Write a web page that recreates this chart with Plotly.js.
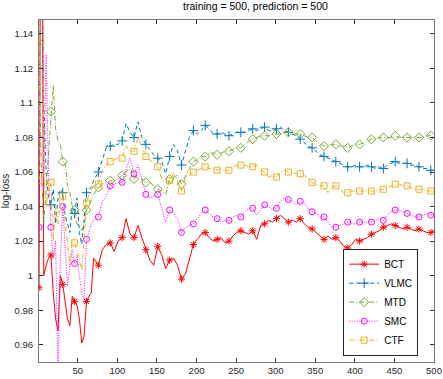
<!DOCTYPE html>
<html>
<head>
<meta charset="utf-8">
<script src="https://cdn.plot.ly/plotly-3.0.1.min.js"></script>
<style>
  html, body { margin: 0; padding: 0; background: #fff; }
  #chart { width: 443px; height: 379px; }
</style>
</head>
<body>
<div id="chart"></div>
<script>
// step index (x) shared by all curves
var steps = [1, 4, 7, 10, 13, 16, 19, 22, 25, 28, 31, 34, 37, 40, 43, 46, 49, 52, 55, 58, 61, 64, 67, 70,
    76, 81, 86, 91, 96, 101, 106, 111, 116, 121,
    126, 131, 136, 141, 146, 151, 156, 161, 166, 171,
    176, 181, 186, 191, 196, 201, 206, 211, 216, 221,
    226, 231, 236, 241, 246, 251, 256, 261, 266, 271,
    276, 281, 286, 291, 296, 301, 306, 311, 316, 321,
    326, 331, 336, 341, 346, 351, 356, 361, 366, 371,
    376, 381, 386, 391, 396, 401, 406, 411, 416, 421,
    426, 431, 436, 441, 446, 451, 456, 461, 466, 471,
    476, 481, 486, 491, 496, 500];

var bct = [0.993, 1.30, 1.000, 1.006, 1.010, 1.012, 0.990, 0.975, 0.968, 1.000, 0.995, 0.984,
    0.975, 0.971, 0.988, 0.985, 0.983, 0.975, 0.961, 0.965, 0.985, 0.988, 0.990, 1.010,
    1.006, 1.015, 1.018, 1.019, 1.014, 1.020, 1.022, 1.033, 1.024, 1.022,
    1.029, 1.022, 1.015, 1.009, 1.006, 1.017, 1.012, 1.004, 1.009, 1.010,
    1.006, 0.998, 1.001, 1.009, 1.018, 1.021, 1.024, 1.025, 1.022, 1.020,
    1.021, 1.022, 1.019, 1.020, 1.023, 1.025, 1.026, 1.025, 1.024, 1.026,
    1.021, 1.029, 1.030, 1.032, 1.031, 1.033, 1.035, 1.033, 1.031, 1.032,
    1.031, 1.033, 1.030, 1.028, 1.027, 1.025, 1.023, 1.021, 1.023, 1.021,
    1.022, 1.020, 1.017, 1.016, 1.018, 1.021, 1.020, 1.021, 1.022, 1.024,
    1.025, 1.026, 1.028, 1.029, 1.030, 1.029, 1.028, 1.027, 1.028, 1.027,
    1.026, 1.027, 1.026, 1.025, 1.025, 1.026];

var vlmc = [1.25, 1.20, 1.10, 1.06, 1.045, 1.041, 1.05, 1.03, 1.045, 1.05, 1.048, 1.035,
    1.03, 1.025, 1.04, 1.036, 1.045, 1.025, 1.018, 1.035, 1.048, 1.050, 1.051, 1.055,
    1.060, 1.067, 1.074, 1.075, 1.076, 1.076, 1.078, 1.088, 1.083, 1.080,
    1.089, 1.080, 1.076, 1.073, 1.070, 1.068, 1.066, 1.059, 1.069, 1.076,
    1.072, 1.064, 1.072, 1.080, 1.084, 1.082, 1.084, 1.087, 1.085, 1.082,
    1.082, 1.083, 1.082, 1.081, 1.082, 1.083, 1.083, 1.083, 1.084, 1.085,
    1.084, 1.085, 1.086, 1.084, 1.084, 1.085, 1.086, 1.084, 1.083, 1.082,
    1.081, 1.079, 1.077, 1.075, 1.074, 1.072, 1.070, 1.069, 1.068, 1.067,
    1.066, 1.065, 1.064, 1.063, 1.063, 1.064, 1.063, 1.063, 1.064, 1.063,
    1.062, 1.063, 1.062, 1.064, 1.065, 1.066, 1.065, 1.065, 1.065, 1.064,
    1.064, 1.063, 1.062, 1.062, 1.061, 1.061];

var mtd = [1.135, 1.06, 1.03, 1.05, 1.07, 1.095, 1.11, 1.085, 1.078, 1.076, 1.066, 1.066,
    1.052, 1.048, 1.040, 1.038, 1.030, 1.028, 1.026, 1.030, 1.038, 1.040, 1.044, 1.047,
    1.051, 1.053, 1.054, 1.055, 1.055, 1.056, 1.058, 1.060, 1.063, 1.056,
    1.058, 1.056, 1.054, 1.054, 1.052, 1.050, 1.049, 1.047, 1.056, 1.057,
    1.058, 1.053, 1.058, 1.062, 1.066, 1.067, 1.069, 1.069, 1.071, 1.071,
    1.070, 1.071, 1.072, 1.072, 1.073, 1.074, 1.074, 1.076, 1.078, 1.079,
    1.080, 1.081, 1.081, 1.081, 1.082, 1.082, 1.082, 1.083, 1.083, 1.083,
    1.082, 1.082, 1.081, 1.080, 1.080, 1.078, 1.076, 1.075, 1.075, 1.076,
    1.076, 1.075, 1.075, 1.074, 1.075, 1.076, 1.076, 1.077, 1.078, 1.079,
    1.079, 1.080, 1.080, 1.080, 1.080, 1.081, 1.080, 1.080, 1.080, 1.080,
    1.080, 1.080, 1.080, 1.081, 1.081, 1.080];

var smc = [1.028, 1.40, 1.05, 1.128, 1.06, 1.028, 1.010, 1.020, 0.940, 1.010, 1.040, 1.020,
    0.994, 1.005, 1.015, 1.007, 1.012, 1.000, 0.990, 0.986, 1.021, 1.025, 1.030, 1.032,
    1.034, 1.043, 1.046, 1.052, 1.053, 1.054, 1.054, 1.062, 1.068, 1.059,
    1.064, 1.056, 1.047, 1.045, 1.046, 1.047, 1.039, 1.031, 1.038, 1.036,
    1.033, 1.025, 1.028, 1.029, 1.030, 1.033, 1.036, 1.038, 1.036, 1.034,
    1.033, 1.031, 1.032, 1.032, 1.034, 1.035, 1.034, 1.037, 1.039, 1.039,
    1.035, 1.038, 1.041, 1.040, 1.038, 1.039, 1.043, 1.045, 1.044, 1.043,
    1.041, 1.043, 1.042, 1.039, 1.037, 1.036, 1.034, 1.034, 1.031, 1.028,
    1.028, 1.029, 1.030, 1.031, 1.030, 1.030, 1.031, 1.031, 1.031, 1.031,
    1.032, 1.033, 1.032, 1.035, 1.037, 1.038, 1.038, 1.037, 1.036, 1.035,
    1.034, 1.034, 1.035, 1.036, 1.035, 1.036];

var ctf = [1.055, 1.35, 1.06, 1.04, 1.05, 1.054, 1.02, 1.04, 1.03, 1.045, 1.046, 1.03,
    1.02, 1.005, 1.02, 1.019, 1.015, 1.008, 1.003, 1.02, 1.042, 1.047, 1.050, 1.052,
    1.053, 1.061, 1.064, 1.066, 1.067, 1.068, 1.068, 1.075, 1.072, 1.072,
    1.080, 1.074, 1.069, 1.067, 1.065, 1.063, 1.056, 1.054, 1.055, 1.059,
    1.055, 1.049, 1.057, 1.058, 1.060, 1.061, 1.062, 1.063, 1.062, 1.062,
    1.061, 1.062, 1.061, 1.061, 1.063, 1.064, 1.064, 1.064, 1.063, 1.063,
    1.064, 1.061, 1.060, 1.057, 1.058, 1.057, 1.060, 1.061, 1.060, 1.060,
    1.059, 1.059, 1.058, 1.056, 1.054, 1.053, 1.052, 1.052, 1.048, 1.051,
    1.052, 1.050, 1.048, 1.048, 1.049, 1.049, 1.049, 1.049, 1.049, 1.049,
    1.049, 1.050, 1.050, 1.051, 1.052, 1.053, 1.053, 1.052, 1.052, 1.051,
    1.050, 1.050, 1.050, 1.049, 1.049, 1.049];

var names = ["BCT", "VLMC", "MTD", "SMC", "CTF"];
var xTicks = [50, 100, 150, 200, 250, 300, 350, 400, 450, 500];
var yTicks = [0.96, 0.98, 1.0, 1.02, 1.04, 1.06, 1.08, 1.1, 1.12, 1.14];
var yTickText = ["0.96", "0.98", "1", "1.02", "1.04", "1.06", "1.08", "1.1", "1.12", "1.14"];

var series = [bct, vlmc, mtd, smc, ctf];
var colors = ["#ff0000", "#0072bd", "#77ac30", "#ff00ff", "#edb120"];
var dashes = ["solid", "4px,3px", "5px,2px,1px,2px", "1px,1.5px", "5px,2px,1px,2px"];
var symbols = ["asterisk-open", "cross-thin-open", "diamond-open", "circle-open", "square-open"];
var sizes = [6, 7, 7, 6, 6];

// matlab-style markers: one every 15 steps
function markerColors(col) {
    return steps.map(function(s) {
        return (s - 1) % 15 === 0 ? col : "rgba(0,0,0,0)";
    });
}

var data = series.map(function(y, i) {
    return {
        x: steps,
        y: y,
        name: names[i],
        type: "scatter",
        mode: "lines+markers",
        line: {color: colors[i], width: 1, dash: dashes[i]},
        marker: {symbol: symbols[i], size: sizes[i], color: markerColors(colors[i]),
            line: {width: 1}}
    };
});

var font = {family: "Liberation Sans, Arial, sans-serif", size: 10, color: "#262626"};

var layout = {
    width: 443,
    height: 379,
    margin: {l: 39, r: 9, t: 20, b: 17},
    paper_bgcolor: "#fff",
    plot_bgcolor: "#fff",
    font: font,
    showlegend: true,
    title: {
        text: "training = 500, prediction = 500",
        font: {family: font.family, size: 10.5, color: "#000"},
        x: 0.548, xref: "paper", xanchor: "center",
        y: 0.984, yref: "container", yanchor: "middle"
    },
    xaxis: {
        range: [1, 500],
        tickvals: xTicks,
        ticks: "inside", ticklen: 4, tickcolor: "#262626",
        showline: true, linecolor: "#777", linewidth: 1, mirror: "ticks",
        showgrid: false, zeroline: false,
        tickfont: {size: 9.5}
    },
    yaxis: {
        range: [0.95, 1.148],
        tickvals: yTicks,
        ticktext: yTickText,
        ticks: "inside", ticklen: 4, tickcolor: "#262626",
        showline: true, linecolor: "#777", linewidth: 1, mirror: "ticks",
        showgrid: false, zeroline: false,
        ticklabelstandoff: 3,
        tickfont: {size: 9.5},
        title: {text: "log-loss", font: {size: 10}, standoff: 6}
    },
    legend: {
        x: 0.96, xanchor: "right",
        y: 0.175, yanchor: "middle",
        bgcolor: "#fff", bordercolor: "#262626", borderwidth: 1,
        font: {size: 10, color: "#000"},
        tracegroupgap: 0
    }
};

Plotly.newPlot("chart", data, layout, {displayModeBar: false, staticPlot: true});
</script>
</body>
</html>
